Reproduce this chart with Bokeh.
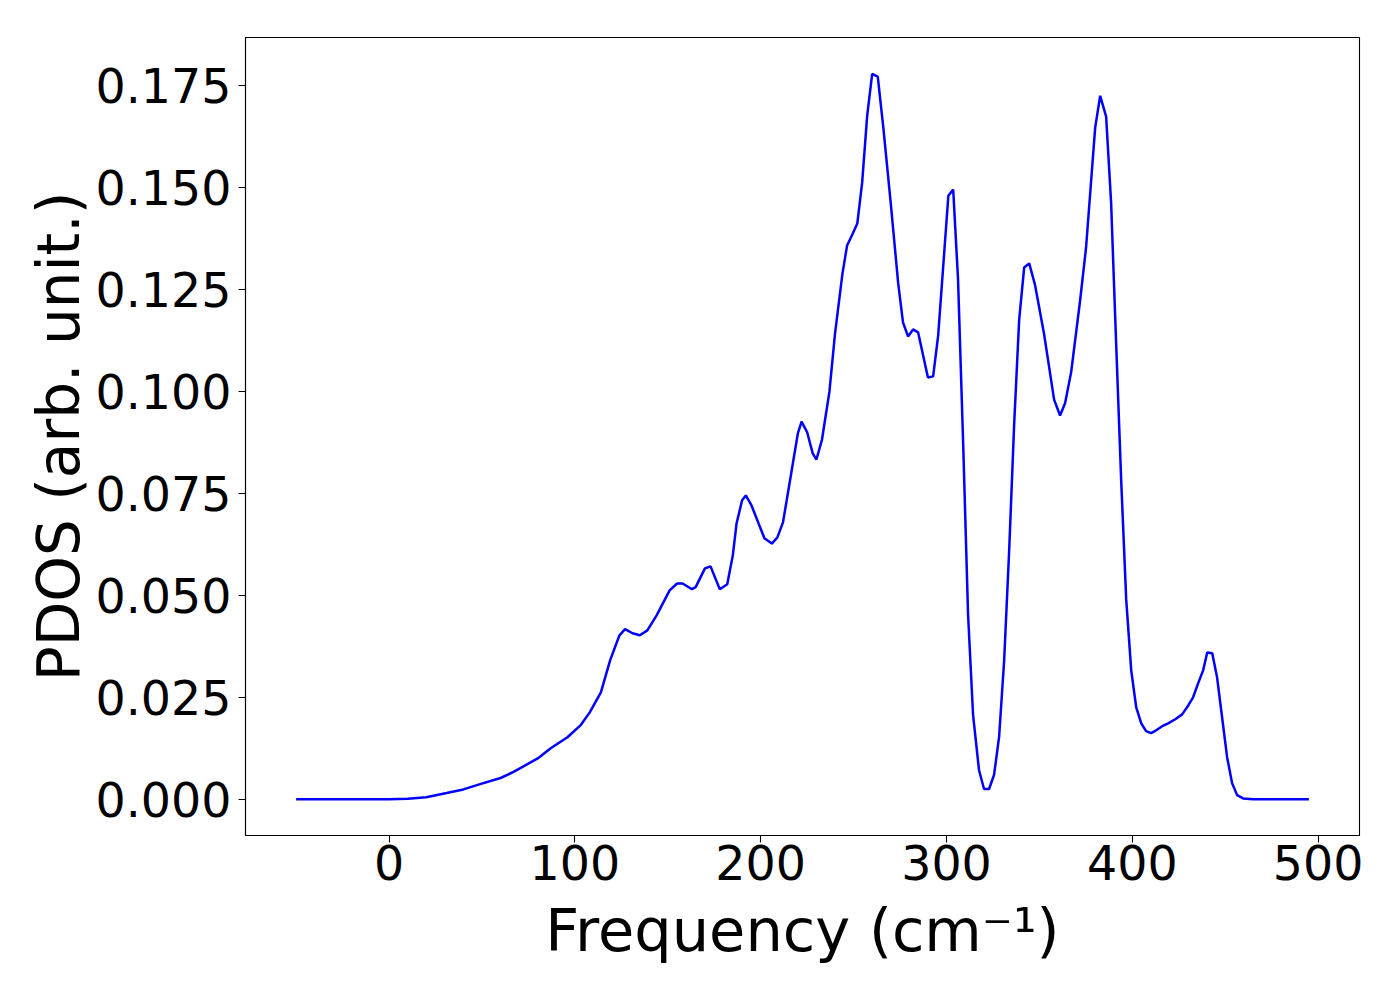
from bokeh.plotting import figure
from bokeh.models import Range1d, FixedTicker, PrintfTickFormatter, ColumnDataSource
from bokeh.embed import file_html
from bokeh.resources import INLINE

# ---- data ----
freq = [-50, 0, 10, 20, 31, 40, 49, 60, 67, 80,
        87, 96, 103, 108, 114, 119, 124, 127, 131, 135,
        139, 144, 151, 155, 158, 163, 165, 170, 173, 178,
        182, 185, 187, 190, 192, 195, 202, 206, 209, 212,
        214, 220, 222, 225, 228, 230, 233, 237, 240, 244,
        246.5, 249, 252, 254.6, 257.3, 260, 263, 266, 270, 274,
        276.6, 279.3, 282, 284.7, 290, 292.8, 295.5, 301, 303.6, 306.2,
        309, 311.6, 314.3, 317.5, 320.2, 322.9, 325.6, 328.3, 331, 333.7,
        336.4, 339.1, 341.8, 344.5, 347.7, 352.5, 357.9, 361.1, 363.8, 367.1,
        371.9, 375.1, 380, 382.7, 385.9, 388.6, 390.7, 394, 396.7, 399.4,
        402.1, 404.8, 407.4, 410.1, 412.8, 416.1, 419.3, 423.1, 426.8, 430.1,
        432.7, 435.4, 438.1, 440.3, 443, 445.6, 448.3, 451, 453.7, 456.4,
        459.6, 465, 495]
pdos = [0, 0, 0.0001, 0.0005, 0.0015, 0.0024, 0.0037, 0.0052, 0.0067, 0.0100,
        0.0125, 0.0152, 0.0181, 0.0213, 0.0262, 0.0341, 0.0402, 0.0417, 0.0407, 0.0402,
        0.0414, 0.0451, 0.0512, 0.0529, 0.0529, 0.0515, 0.0520, 0.0566, 0.0571, 0.0515,
        0.0527, 0.0598, 0.0676, 0.0733, 0.0745, 0.0721, 0.0640, 0.0627, 0.0642, 0.0679,
        0.0733, 0.0897, 0.0926, 0.0900, 0.0848, 0.0833, 0.0882, 0.1000, 0.1142, 0.1289,
        0.1358, 0.1382, 0.1412, 0.1512, 0.1676, 0.1779, 0.1772, 0.1647, 0.1461, 0.1265,
        0.1169, 0.1135, 0.1152, 0.1145, 0.1034, 0.1037, 0.1137, 0.1480, 0.1495, 0.1275,
        0.0866, 0.0453, 0.0206, 0.0071, 0.0025, 0.0025, 0.0060, 0.0153, 0.0339, 0.0608,
        0.0919, 0.1176, 0.1304, 0.1314, 0.1260, 0.1141, 0.0980, 0.0941, 0.0971, 0.1048,
        0.1223, 0.1353, 0.1647, 0.1725, 0.1674, 0.1461, 0.1191, 0.0782, 0.0490, 0.0316,
        0.0225, 0.0186, 0.0167, 0.0162, 0.0169, 0.0179, 0.0186, 0.0196, 0.0208, 0.0230,
        0.0250, 0.0284, 0.0316, 0.0360, 0.0358, 0.0299, 0.0201, 0.0103, 0.0039, 0.0010,
        0.0002, 0, 0]
assert len(freq) == len(pdos)

x_ticks = [0, 100, 200, 300, 400, 500]
y_ticks = [0.0, 0.025, 0.05, 0.075, 0.1, 0.125, 0.15, 0.175]
x_label = "Frequency (cm\u207b\u00b9)"
y_label = "PDOS (arb. unit.)"

FONT = "DejaVu Sans"

p = figure(width=1390, height=992, output_backend="svg", toolbar_location=None,
           x_range=Range1d(-77.25, 522.25), y_range=Range1d(-0.0089, 0.1868),
           min_border_left=245, min_border_right=31, min_border_top=37, min_border_bottom=157)
p.background_fill_color = "white"
p.border_fill_color = "white"
p.outline_line_color = "black"
p.outline_line_width = 1.1
p.grid.visible = False

src = ColumnDataSource(dict(x=freq, y=pdos))
p.line("x", "y", source=src, line_color="#0000ff", line_width=2.5)

for ax in (p.xaxis[0], p.yaxis[0]):
    ax.axis_line_color = "black"
    ax.axis_line_width = 1.1
    ax.major_tick_line_color = "black"
    ax.major_tick_line_width = 1.1
    ax.major_tick_out = 7
    ax.major_tick_in = 0
    ax.minor_tick_line_color = None
    ax.major_label_text_font = FONT
    ax.major_label_text_font_size = "47.5px"
    ax.major_label_text_color = "black"
    ax.axis_label_text_font = FONT
    ax.axis_label_text_font_style = "normal"
    ax.axis_label_text_color = "black"

p.xaxis.ticker = FixedTicker(ticks=x_ticks)
p.yaxis.ticker = FixedTicker(ticks=y_ticks)
p.yaxis.formatter = PrintfTickFormatter(format="%.3f")
p.xaxis.major_label_standoff = 2
p.yaxis.major_label_standoff = 7

p.yaxis.axis_label = y_label
p.yaxis.axis_label_text_font_size = "58px"
p.yaxis.axis_label_standoff = 0

p.xaxis.axis_label = x_label
p.xaxis.axis_label_text_font_size = "59px"
p.xaxis.axis_label_standoff = 13

open("out.html", "w").write(file_html(p, INLINE))
